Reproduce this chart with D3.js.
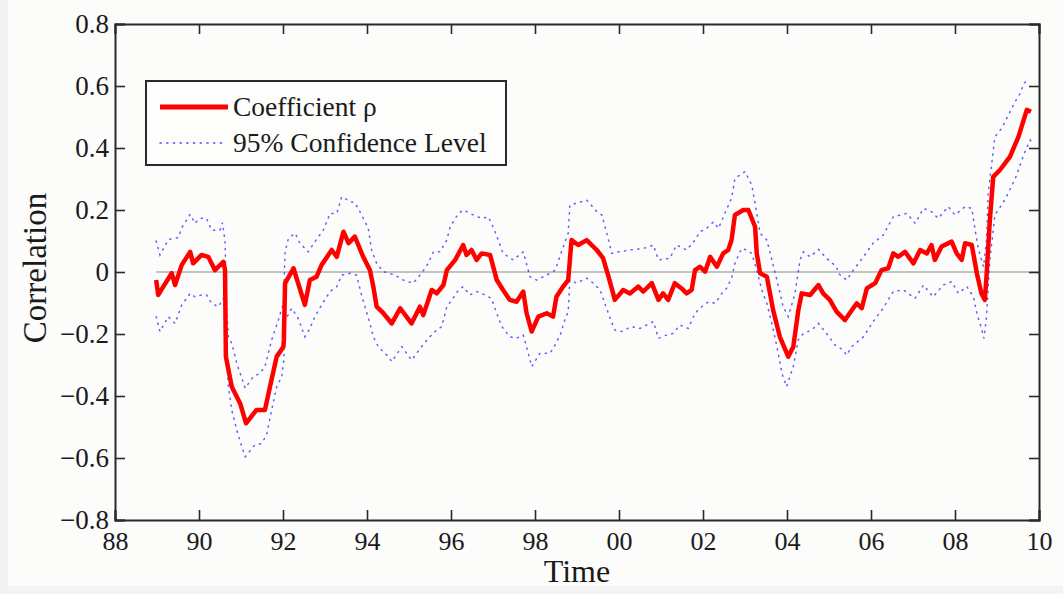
<!DOCTYPE html>
<html>
<head>
<meta charset="utf-8">
<script src="https://cdn.jsdelivr.net/npm/d3@7"></script>
<style>
  html, body { margin: 0; padding: 0; background: #f3f3f3; }
  svg { display: block; }
  text { font-family: "Liberation Serif", "Times New Roman", serif; fill: #1a1a1a; }
</style>
</head>
<body>
<div id="chart"></div>
<script>
// time is years since 1900
const rho = [
  [88.98,-0.026],[89.03,-0.074],[89.15,-0.047],[89.35,-0.004],[89.43,-0.042],[89.59,0.023],[89.79,0.065],[89.86,0.028],
  [90.06,0.055],[90.22,0.049],[90.38,0.006],[90.58,0.033],[90.62,0.006],[90.64,-0.273],[90.78,-0.37],[90.98,-0.424],
  [91.12,-0.488],[91.37,-0.445],[91.57,-0.445],[91.69,-0.37],[91.85,-0.273],[92.01,-0.241],[92.02,-0.219],[92.05,-0.036],
  [92.25,0.012],[92.52,-0.106],[92.64,-0.026],[92.80,-0.015],[92.92,0.023],[93.16,0.071],[93.28,0.049],[93.44,0.130],
  [93.56,0.093],[93.71,0.114],[93.91,0.049],[94.07,0.006],[94.15,-0.047],[94.23,-0.112],[94.39,-0.133],[94.59,-0.166],
  [94.79,-0.117],[95.06,-0.166],[95.26,-0.112],[95.34,-0.139],[95.54,-0.058],[95.66,-0.069],[95.82,-0.042],[95.90,0.006],
  [96.10,0.039],[96.29,0.087],[96.37,0.055],[96.49,0.071],[96.61,0.039],[96.73,0.060],[96.93,0.055],[97.09,-0.026],
  [97.24,-0.058],[97.40,-0.090],[97.56,-0.096],[97.72,-0.063],[97.80,-0.133],[97.92,-0.192],[98.08,-0.144],[98.28,-0.133],
  [98.43,-0.144],[98.51,-0.080],[98.67,-0.047],[98.79,-0.026],[98.87,0.103],[99.03,0.087],[99.23,0.103],[99.47,0.071],
  [99.62,0.045],[99.75,-0.015],[99.86,-0.069],[99.90,-0.090],[100.10,-0.058],[100.26,-0.069],[100.46,-0.047],[100.58,-0.063],
  [100.78,-0.036],[100.94,-0.090],[101.05,-0.069],[101.17,-0.090],[101.33,-0.036],[101.49,-0.053],[101.61,-0.069],[101.73,-0.058],
  [101.81,0.006],[101.93,0.017],[102.05,0.001],[102.17,0.049],[102.33,0.017],[102.48,0.060],[102.60,0.071],[102.68,0.103],
  [102.76,0.184],[102.96,0.200],[103.08,0.200],[103.24,0.146],[103.28,0.060],[103.36,-0.004],[103.52,-0.015],[103.67,-0.123],
  [103.83,-0.209],[104.03,-0.273],[104.15,-0.241],[104.27,-0.123],[104.35,-0.069],[104.55,-0.074],[104.75,-0.042],[104.86,-0.069],
  [105.02,-0.090],[105.18,-0.128],[105.38,-0.155],[105.66,-0.101],[105.78,-0.117],[105.90,-0.053],[106.10,-0.036],[106.25,0.006],
  [106.41,0.012],[106.53,0.060],[106.65,0.049],[106.81,0.065],[107.01,0.028],[107.17,0.071],[107.33,0.060],[107.44,0.087],
  [107.52,0.039],[107.68,0.082],[107.92,0.098],[108.04,0.060],[108.16,0.039],[108.24,0.093],[108.40,0.087],[108.52,-0.004],
  [108.63,-0.069],[108.71,-0.090],[108.75,-0.015],[108.83,0.168],[108.91,0.307],[109.07,0.329],[109.31,0.372],[109.51,0.436],
  [109.71,0.523],[109.81,0.517]
];

const upper = [
  [88.98,0.100],[89.07,0.055],[89.27,0.105],[89.51,0.111],[89.59,0.143],[89.79,0.186],[89.90,0.157],[90.02,0.173],
  [90.18,0.173],[90.30,0.135],[90.50,0.135],[90.56,0.159],[90.62,0.098],[90.66,-0.112],[90.70,-0.209],[90.78,-0.230],
  [90.90,-0.295],[91.10,-0.375],[91.29,-0.338],[91.45,-0.327],[91.57,-0.305],[91.73,-0.219],[91.89,-0.155],[92.01,-0.101],
  [92.05,0.065],[92.13,0.109],[92.29,0.125],[92.40,0.093],[92.60,0.065],[92.76,0.098],[92.96,0.135],[93.12,0.189],
  [93.28,0.189],[93.40,0.243],[93.60,0.227],[93.71,0.224],[93.83,0.195],[94.03,0.141],[94.11,0.071],[94.23,0.028],
  [94.39,0.001],[94.67,-0.010],[94.86,-0.026],[95.10,-0.036],[95.30,-0.004],[95.46,0.028],[95.58,0.065],[95.74,0.065],
  [95.90,0.103],[95.98,0.146],[96.18,0.189],[96.29,0.200],[96.53,0.184],[96.73,0.173],[96.89,0.178],[97.05,0.130],
  [97.24,0.060],[97.48,0.039],[97.72,0.065],[97.88,-0.015],[98.04,-0.026],[98.28,-0.010],[98.48,0.006],[98.63,0.065],
  [98.79,0.125],[98.83,0.216],[98.99,0.222],[99.23,0.232],[99.47,0.195],[99.59,0.184],[99.71,0.125],[99.83,0.060],
  [99.99,0.065],[100.26,0.071],[100.58,0.076],[100.82,0.087],[100.94,0.039],[101.21,0.044],[101.37,0.087],[101.61,0.071],
  [101.81,0.103],[101.93,0.130],[102.09,0.141],[102.25,0.162],[102.37,0.141],[102.52,0.189],[102.68,0.238],[102.76,0.302],
  [103.00,0.324],[103.16,0.281],[103.24,0.222],[103.36,0.125],[103.52,0.103],[103.64,0.039],[103.76,-0.026],[103.91,-0.112],
  [104.03,-0.144],[104.19,-0.069],[104.31,0.039],[104.39,0.065],[104.55,0.049],[104.75,0.073],[104.94,0.044],[105.18,0.017],
  [105.22,-0.004],[105.42,-0.026],[105.58,0.006],[105.82,0.049],[106.05,0.093],[106.29,0.119],[106.53,0.178],[106.85,0.189],
  [107.05,0.157],[107.25,0.205],[107.44,0.195],[107.60,0.173],[107.84,0.211],[108.00,0.184],[108.24,0.211],[108.40,0.205],
  [108.48,0.135],[108.56,0.071],[108.68,0.017],[108.75,0.103],[108.79,0.254],[108.95,0.436],[109.11,0.463],[109.27,0.506],
  [109.43,0.549],[109.55,0.576],[109.64,0.608],[109.76,0.625]
];

const lower = [
  [88.98,-0.144],[89.07,-0.192],[89.27,-0.144],[89.43,-0.166],[89.59,-0.106],[89.79,-0.069],[89.90,-0.080],[90.06,-0.074],
  [90.18,-0.074],[90.30,-0.101],[90.46,-0.112],[90.58,-0.085],[90.62,-0.133],[90.66,-0.284],[90.70,-0.370],[90.78,-0.445],
  [90.90,-0.510],[91.02,-0.564],[91.10,-0.596],[91.33,-0.558],[91.49,-0.553],[91.61,-0.526],[91.73,-0.445],[91.85,-0.370],
  [91.97,-0.338],[92.02,-0.284],[92.05,-0.155],[92.21,-0.117],[92.36,-0.149],[92.52,-0.209],[92.64,-0.182],[92.76,-0.144],
  [92.92,-0.106],[93.12,-0.063],[93.28,-0.047],[93.40,-0.010],[93.60,-0.004],[93.75,-0.010],[93.87,-0.074],[94.07,-0.166],
  [94.15,-0.209],[94.27,-0.241],[94.47,-0.268],[94.59,-0.289],[94.83,-0.241],[95.06,-0.284],[95.30,-0.241],[95.46,-0.214],
  [95.62,-0.192],[95.78,-0.176],[95.90,-0.112],[96.02,-0.090],[96.18,-0.058],[96.29,-0.047],[96.45,-0.074],[96.61,-0.063],
  [96.81,-0.074],[96.96,-0.085],[97.09,-0.133],[97.21,-0.176],[97.40,-0.209],[97.56,-0.214],[97.72,-0.203],[97.84,-0.262],
  [97.92,-0.305],[98.12,-0.262],[98.36,-0.262],[98.48,-0.235],[98.60,-0.203],[98.71,-0.155],[98.79,-0.128],[98.83,-0.026],
  [98.99,-0.036],[99.23,-0.020],[99.39,-0.036],[99.55,-0.058],[99.65,-0.096],[99.79,-0.150],[99.90,-0.187],[100.06,-0.192],
  [100.30,-0.176],[100.50,-0.182],[100.82,-0.160],[100.94,-0.214],[101.14,-0.203],[101.29,-0.198],[101.45,-0.171],[101.65,-0.182],
  [101.81,-0.133],[101.97,-0.112],[102.13,-0.096],[102.29,-0.101],[102.45,-0.069],[102.56,-0.053],[102.68,-0.020],[102.76,0.028],
  [102.92,0.076],[103.04,0.071],[103.16,0.060],[103.28,0.006],[103.40,-0.058],[103.52,-0.101],[103.64,-0.166],[103.76,-0.241],
  [103.88,-0.327],[103.99,-0.370],[104.15,-0.305],[104.27,-0.219],[104.39,-0.198],[104.59,-0.187],[104.75,-0.166],[104.94,-0.198],
  [105.14,-0.235],[105.34,-0.252],[105.42,-0.268],[105.54,-0.241],[105.82,-0.209],[106.05,-0.160],[106.29,-0.117],[106.53,-0.063],
  [106.77,-0.058],[107.05,-0.085],[107.25,-0.042],[107.48,-0.080],[107.72,-0.042],[107.92,-0.031],[108.08,-0.069],[108.28,-0.047],
  [108.44,-0.080],[108.52,-0.133],[108.63,-0.182],[108.69,-0.214],[108.75,-0.144],[108.83,0.039],[108.95,0.184],[109.11,0.216],
  [109.27,0.254],[109.47,0.313],[109.63,0.377],[109.79,0.426],[109.87,0.410]
];

const zeroSpan = [88.98, 110];
const xTicks = [88, 90, 92, 94, 96, 98, 100, 102, 104, 106, 108, 110];
const xTickLabels = ['88', '90', '92', '94', '96', '98', '00', '02', '04', '06', '08', '10'];
const yTicks = [-0.8, -0.6, -0.4, -0.2, 0, 0.2, 0.4, 0.6, 0.8];
const yTickLabels = ['\u22120.8', '\u22120.6', '\u22120.4', '\u22120.2', '0', '0.2', '0.4', '0.6', '0.8'];
const legendLabels = ['Coefficient \u03c1', '95% Confidence Level'];

const w = 1063;
const h = 594;
const plot = { left: 115, right: 1039, top: 24, bottom: 520 };
const tickLen = 10;

const svg = d3.select('#chart')
  .append('svg')
  .attr('width', w)
  .attr('height', h);

svg.append('rect')
  .attr('x', 8).attr('y', 0)
  .attr('width', w - 8).attr('height', 586)
  .attr('fill', '#fcfcfa');

const xScale = d3.scaleLinear().domain([88, 110]).range([plot.left, plot.right]);
const yScale = d3.scaleLinear().domain([-0.8, 0.8]).range([plot.bottom, plot.top]);

// zero reference line
svg.append('line')
  .attr('x1', xScale(zeroSpan[0])).attr('x2', xScale(zeroSpan[1]))
  .attr('y1', yScale(0)).attr('y2', yScale(0))
  .attr('stroke', '#8a8a8a')
  .attr('stroke-width', 1.2);

const line = d3.line()
  .x(d => xScale(d[0]))
  .y(d => yScale(d[1]));

[upper, lower].forEach(band => {
  svg.append('path')
    .datum(band)
    .attr('d', line)
    .attr('fill', 'none')
    .attr('stroke', '#2b2bff')
    .attr('stroke-opacity', 0.75)
    .attr('stroke-width', 1.5)
    .attr('stroke-dasharray', '1.2,5.5')
    .attr('stroke-linecap', 'round');
});

svg.append('path')
  .datum(rho)
  .attr('d', line)
  .attr('fill', 'none')
  .attr('stroke', '#ff0000')
  .attr('stroke-width', 4.5)
  .attr('stroke-linejoin', 'round');

// axes: MATLAB-style box with inward ticks
const axisColor = '#2a2a2a';

svg.append('g')
  .attr('class', 'axis x')
  .attr('transform', `translate(0, ${plot.bottom})`)
  .call(d3.axisBottom(xScale).tickValues(xTicks).tickSize(-tickLen).tickPadding(12)
    .tickFormat((d, i) => xTickLabels[i]));

svg.append('g')
  .attr('class', 'axis')
  .attr('transform', `translate(0, ${plot.top})`)
  .call(d3.axisTop(xScale).tickValues(xTicks).tickSize(-tickLen).tickFormat(''));

svg.append('g')
  .attr('class', 'axis y')
  .attr('transform', `translate(${plot.left}, 0)`)
  .call(d3.axisLeft(yScale).tickValues(yTicks).tickSize(-tickLen).tickPadding(6)
    .tickFormat((d, i) => yTickLabels[i]));

svg.append('g')
  .attr('class', 'axis')
  .attr('transform', `translate(${plot.right}, 0)`)
  .call(d3.axisRight(yScale).tickValues(yTicks).tickSize(-tickLen).tickFormat(''));

svg.selectAll('.axis path, .axis line')
  .attr('stroke', axisColor)
  .attr('stroke-width', 1.6);
svg.selectAll('.axis path').attr('stroke-width', 2);
svg.selectAll('.axis text')
  .attr('font-size', 26)
  .attr('font-family', '"Liberation Serif", "Times New Roman", serif')
  .attr('fill', '#1a1a1a');
svg.selectAll('.axis.y text').attr('font-size', 27);

// axis titles
svg.append('text')
  .attr('x', 577)
  .attr('y', 582)
  .attr('text-anchor', 'middle')
  .attr('font-size', 32)
  .text('Time');

svg.append('text')
  .attr('transform', `translate(46, ${(plot.top + plot.bottom) / 2 - 4}) rotate(-90)`)
  .attr('text-anchor', 'middle')
  .attr('font-size', 33)
  .text('Correlation');

// legend
const legend = svg.append('g');
legend.append('rect')
  .attr('x', 146).attr('y', 81)
  .attr('width', 360).attr('height', 84)
  .attr('fill', '#fdfdfb')
  .attr('stroke', axisColor)
  .attr('stroke-width', 2);

legend.append('line')
  .attr('x1', 160).attr('x2', 228)
  .attr('y1', 107).attr('y2', 107)
  .attr('stroke', '#ff0000')
  .attr('stroke-width', 5);

legend.append('line')
  .attr('x1', 160).attr('x2', 224)
  .attr('y1', 143).attr('y2', 143)
  .attr('stroke', '#2b2bff')
  .attr('stroke-opacity', 0.85)
  .attr('stroke-width', 1.5)
  .attr('stroke-dasharray', '1.2,5.5')
  .attr('stroke-linecap', 'round');

legend.selectAll('text.leg')
  .data(legendLabels)
  .enter()
  .append('text')
  .attr('class', 'leg')
  .attr('x', 233)
  .attr('y', (d, i) => 116 + i * 36)
  .attr('font-size', 27.5)
  .text(d => d);
</script>
</body>
</html>
